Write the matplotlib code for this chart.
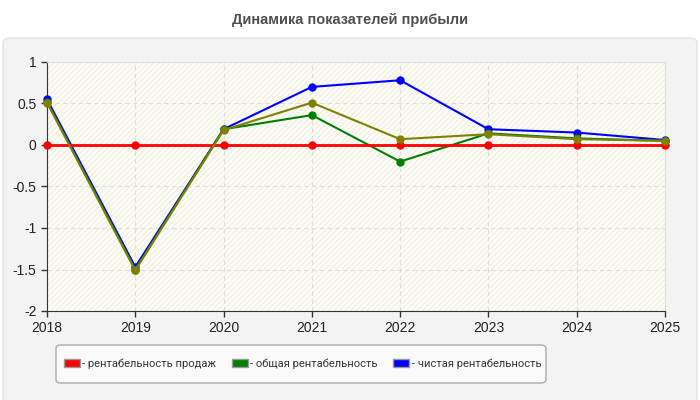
import matplotlib
matplotlib.use("Agg")
import matplotlib.pyplot as plt
from matplotlib.patches import FancyBboxPatch, Rectangle, Patch

years = [2018, 2019, 2020, 2021, 2022, 2023, 2024, 2025]
sales_prof = [0, 0, 0, 0, 0, 0, 0, 0]
total_prof = [0.52, -1.50, 0.19, 0.36, -0.20, 0.14, 0.08, 0.05]
net_prof = [0.55, -1.47, 0.19, 0.70, 0.78, 0.19, 0.15, 0.06]
other_prof = [0.51, -1.51, 0.18, 0.51, 0.07, 0.13, 0.07, 0.05]
labels = ["- рентабельность продаж", "- общая рентабельность", "- чистая рентабельность"]
title = "Динамика показателей прибыли"
yticks = [1, 0.5, 0, -0.5, -1, -1.5, -2]

plt.rcParams['font.family'] = ['Liberation Sans', 'DejaVu Sans']

W, H = 700, 400
fig = plt.figure(figsize=(7, 4), dpi=100)
fig.patch.set_facecolor('white')

# panel background
panel = FancyBboxPatch((3/W, -0.05), 694/W, (H-38)/H + 0.05,
                       boxstyle="round,pad=0,rounding_size=0.012",
                       transform=fig.transFigure, facecolor='#f3f3f3',
                       edgecolor='#e2e2e2', linewidth=1, zorder=-10)
fig.patches.append(panel)

# legend box
lbox = FancyBboxPatch((56/W, 1 - 383/H), (546-56)/W, (383-345)/H,
                      boxstyle="round,pad=0,rounding_size=0.008",
                      transform=fig.transFigure, facecolor='#fafafa',
                      edgecolor='#aaaaaa', linewidth=1, zorder=-5)
fig.patches.append(lbox)

fig.text(0.5, 1 - 20/H, title, ha='center', va='center', fontsize=10.5,
         fontweight='bold', color='#505050')

ax = fig.add_axes([47/W, 1 - 311/H, (665-47)/W, (311-62)/H])
ax.set_facecolor('#fdfdf6')
ax.add_patch(Rectangle((0, 0), 1, 1, transform=ax.transAxes, fill=False,
                       hatch='//////', edgecolor='#f0f0e8', linewidth=0, zorder=0))

ax.plot(years, sales_prof, color='#ff0000', lw=2, marker='o', ms=5, zorder=5, clip_on=False)
ax.plot(years, total_prof, color='#008000', lw=1.5, marker='o', ms=5, zorder=4, clip_on=False)
ax.plot(years, net_prof, color='#0000ff', lw=1.5, marker='o', ms=5, zorder=3, clip_on=False)
ax.plot(years, other_prof, color='#808000', lw=1.5, marker='o', ms=5, zorder=6, clip_on=False)

ax.set_xlim(2018, 2025)
ax.set_ylim(-2, 1)
ax.set_xticks(years)
ax.set_xticklabels([str(y) for y in years])
ax.set_yticks(yticks)
ax.set_yticklabels([f"{v:g}" for v in yticks])
ax.grid(True, color='#dddddd', linestyle=(0, (4, 3)), linewidth=0.8)
ax.set_axisbelow(True)
for s in ['top', 'right']:
    ax.spines[s].set_color('#e0e0e0')
for s in ['left', 'bottom']:
    ax.spines[s].set_color('#333333')
ax.tick_params(axis='both', labelsize=10, colors='#333333', length=4, width=1, labelcolor='#222222')

handles = [Patch(facecolor='#ff0000', edgecolor='#999999'),
           Patch(facecolor='#008000', edgecolor='#999999'),
           Patch(facecolor='#0000ff', edgecolor='#999999')]
leg = fig.legend(handles, labels, loc='center left', bbox_to_anchor=(64/W, 1 - 364/H),
                 ncol=3, frameon=False, handlelength=1.45, handleheight=0.7,
                 handletextpad=0.2, columnspacing=1.4, borderpad=0,
                 borderaxespad=0, labelcolor='#333333',
                 prop={'family': ['Roboto', 'Liberation Sans'], 'size': 8})

fig.savefig('out.png', dpi=100, facecolor=fig.get_facecolor())
